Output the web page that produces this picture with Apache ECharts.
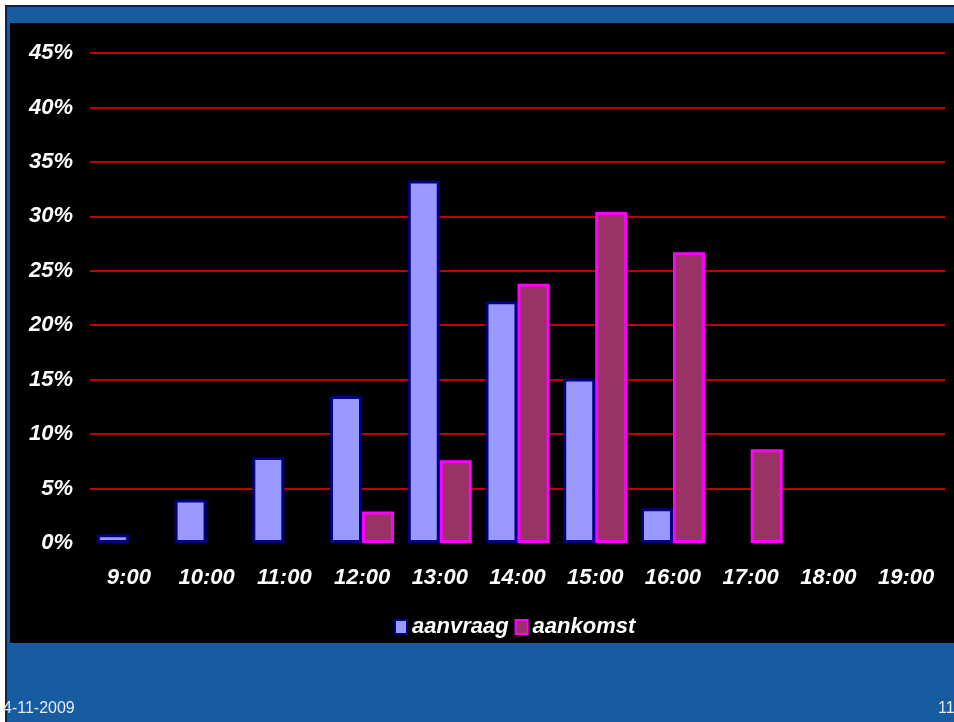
<!DOCTYPE html>
<html>
<head>
<meta charset="utf-8">
<script src="https://cdn.jsdelivr.net/npm/echarts@6/dist/echarts.min.js"></script>
<style>
html,body{margin:0;padding:0;background:#fff;}
#c{width:954px;height:722px;}
</style>
</head>
<body>
<div id="c"></div>
<script>
var categories = ['9:00','10:00','11:00','12:00','13:00','14:00','15:00','16:00','17:00','18:00','19:00'];
var aanvraag = [0.8, 4.0, 7.9, 13.5, 33.3, 22.2, 15.1, 3.2, null, null, null];
var aankomst = [null, null, null, 2.9, 7.6, 23.8, 30.4, 26.7, 8.6, null, null];
var footerDate = '4-11-2009';
var footerPage = '11';

var FONT = '"Liberation Sans", Arial, sans-serif';
var chart = echarts.init(document.getElementById('c'), null, {renderer:'canvas'});

chart.setOption({
  animation: false,
  backgroundColor: '#ffffff',
  graphic: [
    {type:'rect', z:-10, shape:{x:5,y:5,width:949,height:717}, style:{fill:'#0b2550'}},
    {type:'rect', z:-9, shape:{x:7,y:7,width:947,height:715}, style:{fill:'#175ba1'}},
    {type:'rect', z:-8, shape:{x:10,y:23,width:944,height:620}, style:{fill:'#000000'}},
    {type:'text', z:5, left:3, top:701, style:{text:footerDate, fill:'#e6ecf5', font:'16px ' + FONT}},
    {type:'text', z:5, left:938, top:701, style:{text:footerPage, fill:'#e6ecf5', font:'16px ' + FONT}}
  ],
  grid: {left:90, right:9, top:53, bottom:179, containLabel:false},
  legend: {
    left: 389, top: 611,
    itemWidth: 12, itemHeight: 14, itemGap: 6,
    icon: 'rect',
    textStyle: {color:'#ffffff', fontSize:22, fontWeight:'bold', fontStyle:'italic', fontFamily:FONT},
    data: ['aanvraag','aankomst']
  },
  xAxis: {
    type:'category', data: categories,
    axisLine:{show:false}, axisTick:{show:false},
    axisLabel:{color:'#ffffff', fontSize:22, fontWeight:'bold', fontStyle:'italic', fontFamily:FONT, margin:24, interval:0}
  },
  yAxis: {
    type:'value', min:0, max:45, interval:5,
    axisLine:{show:false}, axisTick:{show:false},
    axisLabel:{color:'#ffffff', fontSize:22, fontWeight:'bold', fontStyle:'italic', fontFamily:FONT, margin:17, formatter:'{value}%'},
    splitLine:{show:true, showMinLine:false, lineStyle:{color:'#ff0000', width:1.5}}
  },
  series: [
    {name:'aanvraag', type:'bar', data:aanvraag, barWidth:32, barGap:'0%',
     itemStyle:{color:'#9999ff', borderColor:'#000080', borderWidth:3}},
    {name:'aankomst', type:'bar', data:aankomst, barWidth:32, barGap:'0%',
     itemStyle:{color:'#993366', borderColor:'#ff00ff', borderWidth:3}}
  ]
});
</script>
</body>
</html>
